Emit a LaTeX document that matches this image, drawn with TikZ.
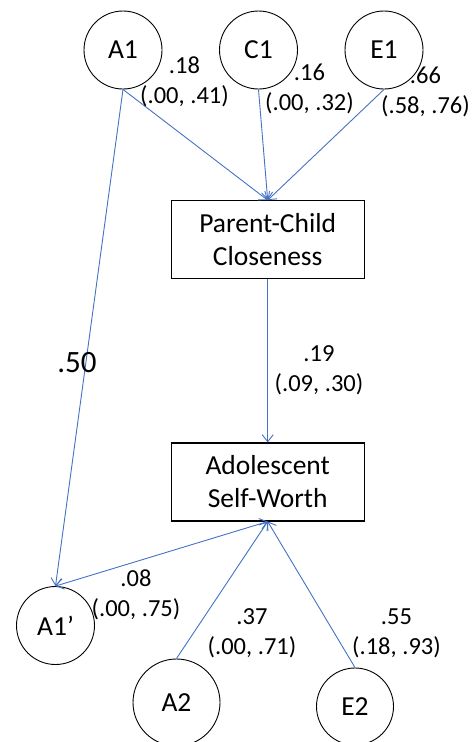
\documentclass[tikz,border=0pt]{standalone}
\usepackage{fontspec}
\setmainfont{Carlito}
\usetikzlibrary{arrows.meta}
\definecolor{lineblue}{HTML}{4472C4}
\begin{document}
\begin{tikzpicture}[x=1pt,y=-1pt,
  latent/.style={draw=black,line width=0.9pt,circle,minimum size=78pt,inner sep=0pt,font=\fontsize{27.5}{32}\selectfont},
  observed/.style={draw=black,line width=1.1pt,rectangle,minimum width=193pt,minimum height=78pt,align=center,font=\fontsize{27.5}{33}\selectfont},
  path/.style={draw=lineblue,line width=0.9pt,-{Straight Barb[length=7pt,width=11pt]}},
  bipath/.style={draw=lineblue,line width=0.9pt,{Straight Barb[length=7pt,width=11pt]}-{Straight Barb[length=7pt,width=11pt]}},
  est/.style={align=center,inner sep=0pt,font=\fontsize{24.5}{30}\selectfont},
]
\useasboundingbox (0,0) rectangle (474,742);
\node[latent] (A1) at (123,50) {A1};
\node[latent] (C1) at (258.5,50) {C1};
\node[latent] (E1) at (384,50) {E1};
\node[observed] (pc) at (267.7,239.7) {Parent-Child\\Closeness};
\node[observed] (as) at (267.7,482) {Adolescent\\Self-Worth};
\node[latent] (A1p) at (55.5,625.5) {A1’};
\node[latent,minimum size=87pt] (A2) at (176.5,702.5) {A2};
\node[latent,minimum size=77pt] (E2) at (355,706.5) {E2};

\draw[path] (A1.south) -- (pc.north);
\draw[path] (C1.south) -- (pc.north);
\draw[path] (E1.south) -- (pc.north);
\draw[path] (A1.south) -- (A1p.north);
\draw[path] (pc.south) -- (as.north);
\draw[bipath] (A1p.north) -- (as.south);
\draw[path] (A2.north) -- (as.south);
\draw[path] (E2.north) -- (as.south);

\node[est] (l18) at (184.5,82) {.18\\(.00, .41)};
\node[est] (l16) at (309.5,89) {.16\\(.00, .32)};
\node[est] (l66) at (425.5,92) {.66\\(.58, .76)};
\node[est] (l19) at (319,370) {.19\\(.09, .30)};
\node[est] (l08) at (136,595) {.08\\(.00, .75)};
\node[est] (l37) at (252,633) {.37\\(.00, .71)};
\node[est] (l55) at (396.5,633) {.55\\(.18, .93)};
\node[font=\fontsize{31}{36}\selectfont,inner sep=0pt] (l50) at (77,363) {.50};
\end{tikzpicture}
\end{document}
